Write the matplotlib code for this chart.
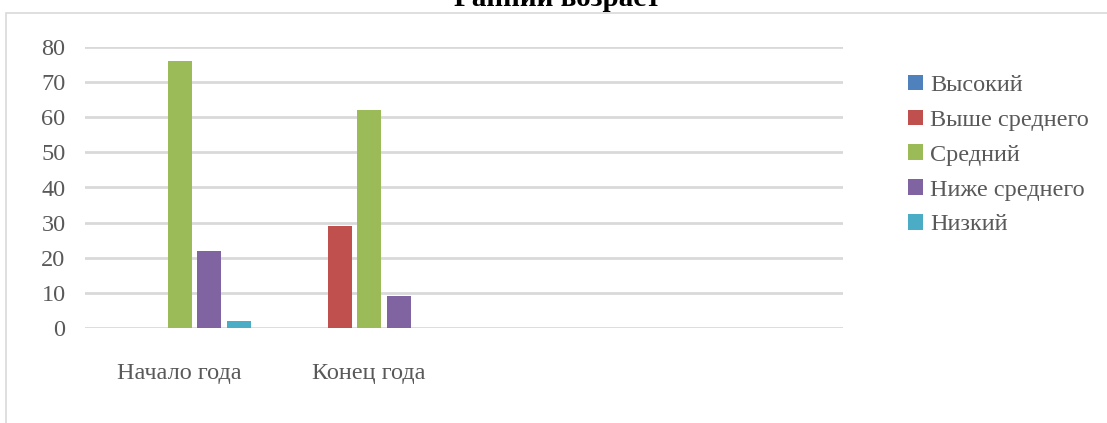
import numpy as np
import matplotlib
matplotlib.use("Agg")
import matplotlib.pyplot as plt
from matplotlib.patches import Rectangle

plt.rcParams['font.family'] = ['Liberation Serif', 'DejaVu Serif']

categories = ["Начало года", "Конец года", "", ""]
series = ["Высокий", "Выше среднего", "Средний", "Ниже среднего", "Низкий"]
values = {
    "Высокий":       [0, 0, 0, 0],
    "Выше среднего": [0, 29, 0, 0],
    "Средний":       [76, 62, 0, 0],
    "Ниже среднего": [22, 9, 0, 0],
    "Низкий":        [2, 0, 0, 0],
}
colors = ["#4F81BD", "#C0504D", "#9BBB59", "#8064A2", "#4BACC6"]
yticks = np.arange(0, 81, 10)

fig = plt.figure(figsize=(11.07, 4.23), dpi=100)
ax = fig.add_axes([85/1107, 1-328/423, (843-85)/1107, (328-47)/423])

# chart frame (cut by the image edges)
fig.patches.append(Rectangle((6/1107, -0.1), 1.2, 1.1 - 13/423,
                             transform=fig.transFigure, fill=False,
                             edgecolor="#d9d9d9", linewidth=1.2))

x = np.arange(len(categories))
step = 0.1557
width = 0.1266
for i, (name, col) in enumerate(zip(series, colors)):
    ax.bar(x + (i - 2) * step, values[name], width=width, color=col,
           label=name, zorder=3)

ax.set_xlim(-0.5, len(categories) - 0.5)
ax.set_ylim(0, 80)
ax.set_yticks(yticks)
ax.set_xticks(x[:2])
ax.set_xticklabels(categories[:2])
ax.yaxis.grid(True, color="#d9d9d9", linewidth=2, zorder=0)
ax.set_axisbelow(True)
for s in ax.spines.values():
    s.set_visible(False)
ax.tick_params(axis="both", length=0, labelsize=17.5, colors="#595959")
ax.tick_params(axis="x", pad=25)
ax.tick_params(axis="y", pad=14)

fig.text(0.503, 1 - 6/423, "Ранний возраст", ha="center", va="baseline",
         fontsize=21, fontweight="bold", color="black")

leg = ax.legend(loc="upper left", bbox_to_anchor=(898/1107, 1 - 65/423),
                bbox_transform=fig.transFigure, frameon=False, fontsize=17.5,
                handlelength=0.62, handleheight=0.62, handletextpad=0.3,
                labelspacing=0.55, borderaxespad=0)
for t in leg.get_texts():
    t.set_color("#595959")

fig.savefig("out.png", dpi=100)
